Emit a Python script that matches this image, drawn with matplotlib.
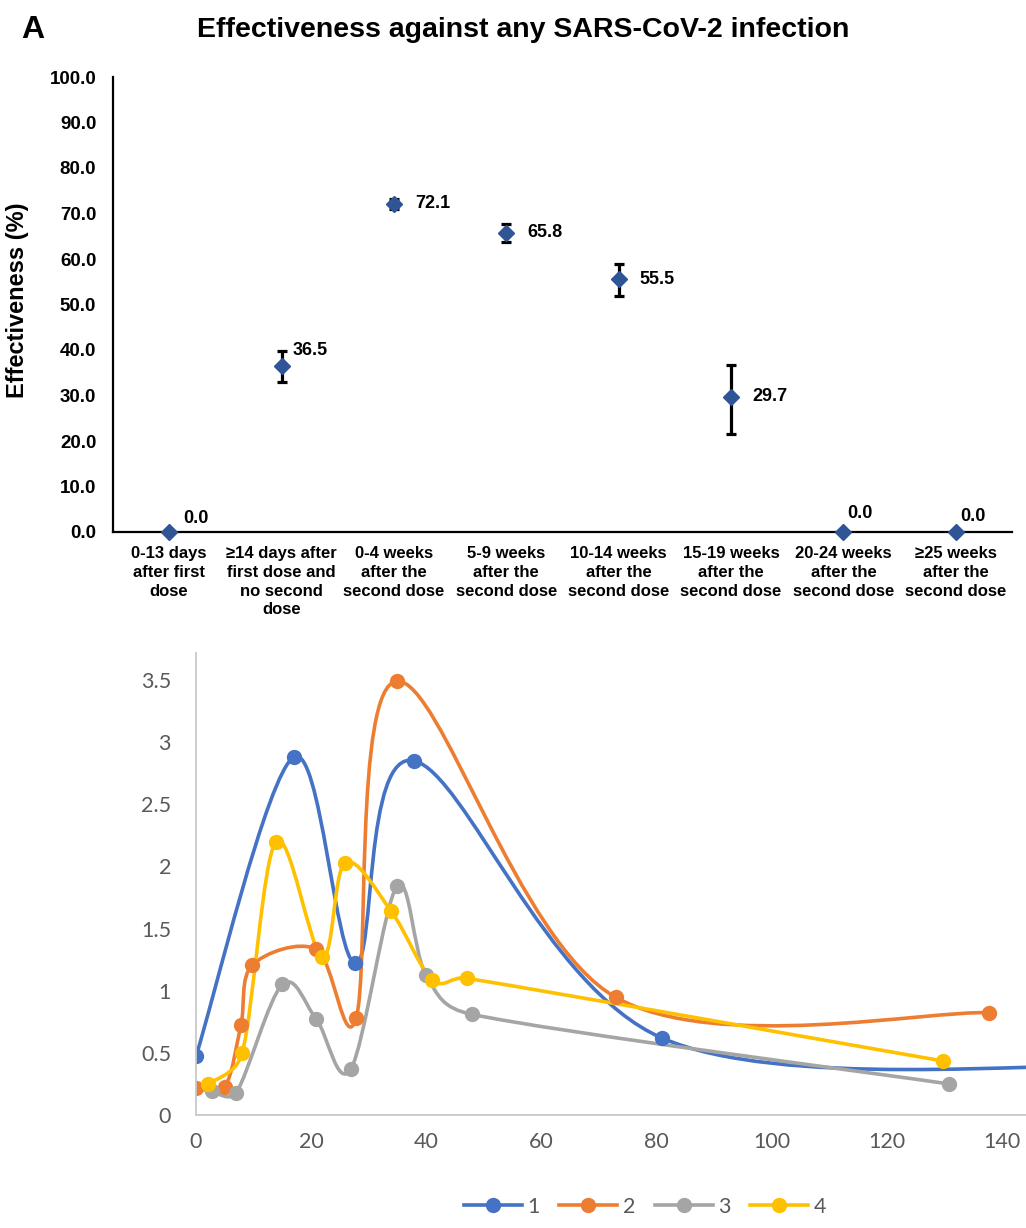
import numpy as np
import matplotlib
matplotlib.use("Agg")
import matplotlib.pyplot as plt
from matplotlib.path import Path
from matplotlib.patches import PathPatch
from matplotlib.lines import Line2D

# ---------------- data: panel A ----------------
categories = [
    "0-13 days\nafter first\ndose",
    "\u226514 days after\nfirst dose and\nno second\ndose",
    "0-4 weeks\nafter the\nsecond dose",
    "5-9 weeks\nafter the\nsecond dose",
    "10-14 weeks\nafter the\nsecond dose",
    "15-19 weeks\nafter the\nsecond dose",
    "20-24 weeks\nafter the\nsecond dose",
    "\u226525 weeks\nafter the\nsecond dose",
]
effectiveness = [0.0, 36.5, 72.1, 65.8, 55.5, 29.7, 0.0, 0.0]
ci_lower = [0.0, 33.0, 70.9, 63.7, 51.9, 21.5, 0.0, 0.0]
ci_upper = [0.0, 39.7, 73.2, 67.8, 58.8, 36.8, 0.0, 0.0]
yticks_a = [0, 10, 20, 30, 40, 50, 60, 70, 80, 90, 100]

# ---------------- data: lower panel ----------------
s1_x = [0, 17.0, 27.7, 37.9, 80.9, 160]
s1_y = [0.475, 2.88, 1.22, 2.85, 0.62, 0.39]
s2_x = [0, 5.0, 7.8, 9.8, 20.9, 27.8, 34.9, 72.9, 137.8]
s2_y = [0.22, 0.228, 0.724, 1.207, 1.333, 0.778, 3.49, 0.947, 0.823]
s3_x = [2.8, 7.0, 15.0, 20.9, 26.9, 34.9, 39.9, 47.9, 130.8]
s3_y = [0.19, 0.18, 1.05, 0.77, 0.37, 1.84, 1.13, 0.81, 0.25]
s4_x = [2.0, 8.0, 13.9, 21.9, 25.9, 33.9, 41.0, 47.0, 129.8]
s4_y = [0.247, 0.496, 2.20, 1.27, 2.03, 1.64, 1.09, 1.10, 0.434]
series_names = ["1", "2", "3", "4"]
xticks_b = [0, 20, 40, 60, 80, 100, 120, 140]
yticks_b = [0, 0.5, 1, 1.5, 2, 2.5, 3, 3.5]

# ---------------- styling ----------------
W, H = 1026, 1228
fig = plt.figure(figsize=(W / 100, H / 100), dpi=100)
bold_font = ["Liberation Sans", "DejaVu Sans"]


def fx(px):
    return px / W


def fy(py):
    return 1 - py / H


# ---------- panel A ----------
axA = fig.add_axes([fx(113), fy(532), fx(1012) - fx(113), fy(77) - fy(532)])
xpos = np.arange(len(categories))
eff = np.array(effectiveness)
lo = np.array(ci_lower)
hi = np.array(ci_upper)
mask = hi > lo
axA.errorbar(xpos[mask], eff[mask], yerr=[eff[mask] - lo[mask], hi[mask] - eff[mask]],
             fmt="none", ecolor="black", elinewidth=2.3, capsize=3.8, capthick=2.3, zorder=2)
axA.plot(xpos, eff, ls="none", marker="D", ms=8.5, color="#2F5597", zorder=3, clip_on=False)

label_offsets = [(10, 10), (8, 11), (15, 0), (15, 0), (15, 0), (15, 0), (3, 13), (3, 11)]
for i, v in enumerate(effectiveness):
    ox, oy = label_offsets[i]
    axA.annotate(f"{v:.1f}", (xpos[i], v), xytext=(ox, oy), textcoords="offset points",
                 ha="left", va="center", fontsize=13, fontweight="bold",
                 family=bold_font, color="black", annotation_clip=False)

axA.set_xlim(-0.5, len(categories) - 0.5)
axA.set_ylim(0, 100)
axA.set_yticks(yticks_a)
axA.set_yticklabels([f"{t:.1f}" for t in yticks_a], fontsize=13.5, fontweight="bold", family=bold_font)
axA.set_xticks(xpos)
axA.set_xticklabels(categories, fontsize=12, fontweight="bold", family=bold_font, linespacing=1.32)
axA.tick_params(axis="both", length=0)
axA.tick_params(axis="y", pad=12)
axA.tick_params(axis="x", pad=10)
for s in ["top", "right"]:
    axA.spines[s].set_visible(False)
for s in ["left", "bottom"]:
    axA.spines[s].set_linewidth(1.6)
    axA.spines[s].set_color("black")

fig.text(fx(18), fy(300), "Effectiveness (%)", rotation=90, ha="center", va="center",
         fontsize=17, fontweight="bold", family=bold_font)
fig.text(fx(523), fy(30), "Effectiveness against any SARS-CoV-2 infection", ha="center", va="center",
         fontsize=20.5, fontweight="bold", family=bold_font)
fig.text(fx(21), fy(30), "A", ha="left", va="center", fontsize=23, fontweight="bold", family=bold_font)

# ---------- lower panel ----------
ppu_x = (1002 - 196) / 140.0
xmax = (1026 - 196) / ppu_x
axB = fig.add_axes([fx(196), fy(1115), fx(1026) - fx(196), fy(653) - fy(1115)])
axB.set_xlim(0, xmax)
axB.set_ylim(0, (1115 - 653) / 124.3)

colors = ["#4472C4", "#ED7D31", "#A5A5A5", "#FFC000"]
all_x = [s1_x, s2_x, s3_x, s4_x]
all_y = [s1_y, s2_y, s3_y, s4_y]

# screen scale (px per data unit) for the spreadsheet-style smoothing
o = axB.transData.transform((0, 0))
sx = axB.transData.transform((1, 0))[0] - o[0]
sy = axB.transData.transform((0, 1))[1] - o[1]


def smooth_path(xs, ys):
    P = np.column_stack([np.asarray(xs, float) * sx, np.asarray(ys, float) * sy])
    n = len(P)
    verts = [P[0]]
    codes = [Path.MOVETO]
    for i in range(n - 1):
        pm = P[i - 1] if i > 0 else P[i]
        p0 = P[i]
        p1 = P[i + 1]
        p2 = P[i + 2] if i + 2 < n else P[i + 1]
        half = np.hypot(*(p1 - p0)) / 2.0
        v1 = (p1 - pm) / 6.0
        v2 = (p2 - p0) / 6.0
        l1 = np.hypot(*v1)
        l2 = np.hypot(*v2)
        if l1 > half:
            v1 = v1 * half / l1
        if l2 > half:
            v2 = v2 * half / l2
        verts += [p0 + v1, p1 - v2, p1]
        codes += [Path.CURVE4] * 3
    V = np.array(verts)
    V[:, 0] /= sx
    V[:, 1] /= sy
    return Path(V, codes)


lw = 2.6
ms = 10
for xs, ys, c in zip(all_x, all_y, colors):
    patch = PathPatch(smooth_path(xs, ys), fill=False, edgecolor=c, lw=lw, capstyle="round",
                      joinstyle="round")
    axB.add_patch(patch)
    axB.plot(xs, ys, ls="none", marker="o", ms=ms, color=c)

tick_font = ["Lato", "DejaVu Sans"]
axB.set_xticks(xticks_b)
axB.set_xticklabels([str(t) for t in xticks_b], fontsize=15.5, family=tick_font, color="#595959")
axB.set_yticks(yticks_b)
axB.set_yticklabels([f"{t:g}" for t in yticks_b], fontsize=15.5, family=tick_font, color="#595959")
axB.tick_params(axis="both", length=0)
axB.tick_params(axis="y", pad=18)
axB.tick_params(axis="x", pad=12)
for s in ["top", "right"]:
    axB.spines[s].set_visible(False)
for s in ["left", "bottom"]:
    axB.spines[s].set_color("#C8C8C8")
    axB.spines[s].set_linewidth(1.3)

handles = [Line2D([0], [0], color=c, lw=lw, marker="o", ms=ms) for c in colors]
leg = fig.legend(handles, series_names, loc="center", bbox_to_anchor=(fx(645), fy(1207)), ncol=4,
                 frameon=False, handlelength=2.7, handletextpad=0.25, columnspacing=0.9,
                 prop={"family": tick_font, "size": 15.5})
for t in leg.get_texts():
    t.set_color("#595959")

fig.savefig("out.png", dpi=100)
